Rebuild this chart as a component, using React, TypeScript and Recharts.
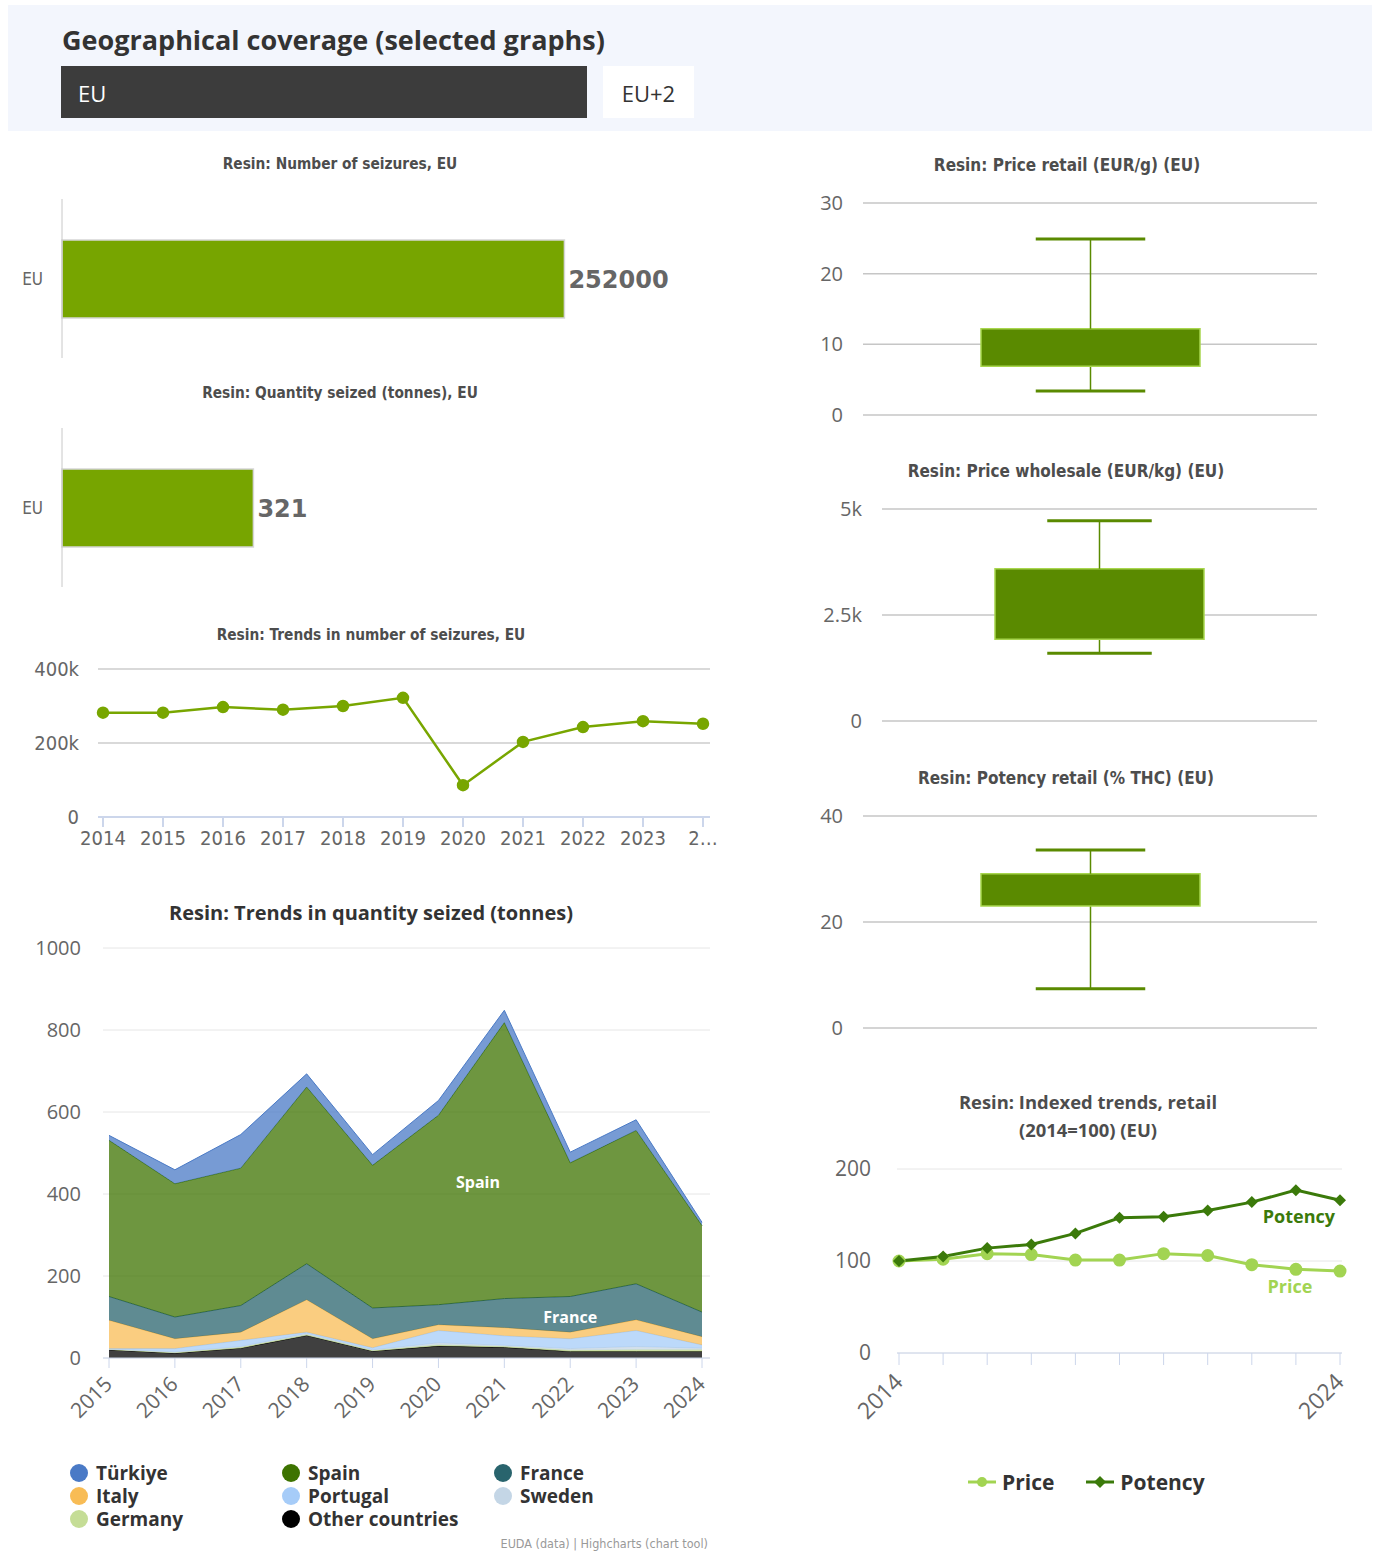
import React from 'react';
import {
  BarChart,
  Bar,
  LineChart,
  Line,
  AreaChart,
  Area,
  XAxis,
  YAxis,
  CartesianGrid,
  LabelList,
  ReferenceDot,
} from 'recharts';

// ---- data ----
const seizureCategories = ['EU'];
const seizureCount = [252000];
const quantitySeized = [321];

const trendYears = ['2014', '2015', '2016', '2017', '2018', '2019', '2020', '2021', '2022', '2023', '2024'];
const trendSeizures = [282000, 282000, 297000, 290000, 300000, 322000, 86000, 203000, 243000, 259000, 252000];

const qtyYears = [2015, 2016, 2017, 2018, 2019, 2020, 2021, 2022, 2023, 2024];
const turkiye = [12, 34, 82, 32, 26, 36, 30, 26, 26, 8];
const spain = [381, 325, 335, 431, 348, 462, 673, 326, 374, 211];
const france = [58, 53, 65, 88, 75, 49, 71, 87, 88, 60];
const italy = [69, 24, 20, 79, 22, 14, 20, 16, 26, 20];
const portugal = [1, 8, 15, 3, 5, 30, 23, 24, 39, 8];
const sweden = [1, 2, 2, 3, 2, 5, 3, 4, 8, 4];
const germany = [1, 1, 2, 2, 1, 3, 2, 3, 4, 4];
const otherCountries = [20, 12, 24, 55, 17, 29, 26, 16, 16, 16];

// low whisker, q1, q3, high whisker
const priceRetailStats = [3.4, 6.9, 12.2, 24.9];
const priceWholesaleStats = [1600, 1930, 3590, 4720];
const potencyRetailStats = [7.4, 23.0, 29.1, 33.6];

const indexYears = ['2014', '2015', '2016', '2017', '2018', '2019', '2020', '2021', '2022', '2023', '2024'];
const priceIndex = [100, 102, 108, 107, 101, 101, 108, 106, 96, 91, 89];
const potencyIndex = [100, 105, 114, 118, 130, 147, 148, 155, 164, 177, 166];

// ---- series config ----
const qtySeries = [
  { name: 'Türkiye', key: 'turkiye', color: '#4a7ac6', values: turkiye },
  { name: 'Spain', key: 'spain', color: '#3d7300', values: spain },
  { name: 'France', key: 'france', color: '#29646d', values: france },
  { name: 'Italy', key: 'italy', color: '#f8bc55', values: italy },
  { name: 'Portugal', key: 'portugal', color: '#a6ccf8', values: portugal },
  { name: 'Sweden', key: 'sweden', color: '#c4d6e6', values: sweden },
  { name: 'Germany', key: 'germany', color: '#c5dd96', values: germany },
  { name: 'Other countries', key: 'other', color: '#000000', values: otherCountries },
];

const seizureRows = seizureCategories.map((name, i) => ({ name, value: seizureCount[i] }));
const quantityRows = seizureCategories.map((name, i) => ({ name, value: quantitySeized[i] }));
const trendRows = trendYears.map((year, i) => ({ year, seizures: trendSeizures[i] }));
const qtyRows = qtyYears.map((year, i) => {
  const row: Record<string, number> = { year };
  qtySeries.forEach((s) => (row[s.key] = s.values[i]));
  return row;
});
const indexRows = indexYears.map((year, i) => ({ year, price: priceIndex[i], potency: potencyIndex[i] }));

const boxRow = (s: number[]) => [
  { name: 'EU', base: s[0], lower: s[1] - s[0], box: s[2] - s[1], upper: s[3] - s[2] },
];

const GREEN = '#77a500';
const BOX_GREEN = '#5a8a00';
const POTENCY = '#3b7a0a';
const PRICE = '#a2d452';
const COND = '"DejaVu Sans Condensed", "DejaVu Sans", sans-serif';
const OPEN = '"Open Sans", "Noto Sans", sans-serif';

function Title({ cx, cy, text, size = 15.3, color = '#4d4d4d', family = COND }: any) {
  return (
    <div
      style={{
        position: 'absolute',
        left: cx - 300,
        width: 600,
        top: cy - size * 0.7,
        lineHeight: `${size * 1.4}px`,
        textAlign: 'center',
        fontSize: size,
        fontWeight: 700,
        color,
        fontFamily: family,
        fontStretch: family === COND ? 'condensed' : 'normal',
        whiteSpace: 'nowrap',
      }}
    >
      {text}
    </div>
  );
}

function Whisker({ x, y, width, height, cap }: any) {
  const cx = x + width / 2;
  const capY = cap === 'top' ? y : y + height;
  return (
    <g>
      <line x1={cx} x2={cx} y1={y} y2={y + height} stroke={BOX_GREEN} strokeWidth={1.5} />
      <line x1={x + width / 4} x2={x + (3 * width) / 4} y1={capY} y2={capY} stroke={BOX_GREEN} strokeWidth={3} />
    </g>
  );
}

function BoxPlot({ stats, ticks, width, height, top, yWidth, boxWidth, fmt }: any) {
  return (
    <BarChart width={width} height={height} data={boxRow(stats)} margin={{ top, right: 23, bottom: height - top - 212, left: 0 }}>
      <CartesianGrid vertical={false} stroke="#c6c6c6" strokeWidth={1.5} />
      <XAxis dataKey="name" hide />
      <YAxis
        width={yWidth}
        domain={[ticks[0], ticks[ticks.length - 1]]}
        ticks={ticks}
        axisLine={false}
        tickLine={false}
        tickMargin={14}
        tickFormatter={fmt}
        tick={{ fontSize: 20, fill: '#666', fontFamily: OPEN }}
      />
      <Bar dataKey="base" stackId="b" fill="none" barSize={boxWidth} isAnimationActive={false} />
      <Bar dataKey="lower" stackId="b" shape={(p: any) => <Whisker {...p} cap="bottom" />} isAnimationActive={false} />
      <Bar dataKey="box" stackId="b" fill={BOX_GREEN} stroke="#a8d64e" strokeWidth={1.5} isAnimationActive={false} />
      <Bar dataKey="upper" stackId="b" shape={(p: any) => <Whisker {...p} cap="top" />} isAnimationActive={false} />
    </BarChart>
  );
}

function RotatedTick({ x, y, payload, show = true, size = 21 }: any) {
  if (!show) return null;
  return (
    <g transform={`translate(${x - 6},${y + 5}) rotate(-45)`}>
      <text textAnchor="end" dy="0.7em" fontSize={size} fill="#666" fontFamily={OPEN}>
        {payload.value}
      </text>
    </g>
  );
}

function Diamond({ cx, cy, fill, size = 6 }: any) {
  if (cx == null || cy == null) return null;
  return (
    <polygon
      points={`${cx},${cy - size} ${cx + size},${cy} ${cx},${cy + size} ${cx - size},${cy}`}
      fill={fill}
    />
  );
}

function HBar({ rows, domain }: any) {
  return (
    <BarChart layout="vertical" width={720} height={220} data={rows} margin={{ top: 49, right: 20, bottom: 12, left: 0 }}>
      <XAxis type="number" hide domain={domain} />
      <YAxis
        type="category"
        dataKey="name"
        width={62}
        axisLine={{ stroke: '#c8c8c8' }}
        tickLine={false}
        tickMargin={13}
        tick={{ fontSize: 17, fill: '#666', fontFamily: COND }}
      />
      <Bar dataKey="value" fill={GREEN} stroke="#d6d6d6" strokeWidth={1.5} barSize={78} isAnimationActive={false}>
        <LabelList
          dataKey="value"
          position="right"
          offset={4}
          fill="#666"
          fontSize={24}
          fontWeight={700}
          fontFamily='"DejaVu Sans", sans-serif'
        />
      </Bar>
    </BarChart>
  );
}

export default function App() {
  const abs = (left: number, top: number): React.CSSProperties => ({ position: 'absolute', left, top });
  return (
    <div style={{ position: 'absolute', left: 0, top: 0, width: 1378, height: 1553, background: '#fff', fontFamily: OPEN }}>
      {/* header */}
      <div style={{ position: 'absolute', left: 8, top: 5, width: 1364, height: 126, background: '#f3f6fd' }} />
      <div style={{ ...abs(62, 22), fontSize: 27, fontWeight: 700, color: '#333', fontFamily: OPEN, lineHeight: '36px' }}>
        Geographical coverage (selected graphs)
      </div>
      <div
        style={{
          ...abs(61, 66),
          width: 526,
          height: 52,
          background: '#3c3c3c',
          color: '#fff',
          fontSize: 22,
          lineHeight: '54px',
          paddingLeft: 17,
          boxSizing: 'border-box',
        }}
      >
        EU
      </div>
      <div
        style={{
          ...abs(603, 66),
          width: 91,
          height: 52,
          background: '#fff',
          color: '#333',
          fontSize: 22,
          lineHeight: '54px',
          textAlign: 'center',
        }}
      >
        EU+2
      </div>

      {/* left: bar charts */}
      <Title cx={340} cy={165} text="Resin: Number of seizures, EU" />
      <div style={abs(0, 150)}>
        <HBar rows={seizureRows} domain={[0, 320000]} />
      </div>
      <Title cx={340} cy={394} text="Resin: Quantity seized (tonnes), EU" />
      <div style={abs(0, 379)}>
        <HBar rows={quantityRows} domain={[0, 1070]} />
      </div>

      {/* left: trend line */}
      <Title cx={371} cy={636} text="Resin: Trends in number of seizures, EU" />
      <div style={abs(0, 620)}>
        <LineChart width={720} height={240} data={trendRows} margin={{ top: 49, right: 10, bottom: 8, left: 0 }}>
          <CartesianGrid vertical={false} stroke="#cccccc" strokeWidth={1.5} />
          <XAxis
            dataKey="year"
            padding={{ left: 5, right: 7 }}
            height={35}
            interval={0}
            axisLine={{ stroke: '#ccd6eb', strokeWidth: 2 }}
            tickLine={{ stroke: '#ccd6eb', strokeWidth: 2 }}
            tickSize={10}
            tickMargin={4}
            tickFormatter={(v: string, i: number) => (i === trendYears.length - 1 ? v.slice(0, 1) + '…' : v)}
            tick={{ fontSize: 20, fill: '#666', fontFamily: COND }}
          />
          <YAxis
            width={98}
            domain={[0, 400000]}
            ticks={[0, 200000, 400000]}
            axisLine={false}
            tickLine={false}
            tickMargin={13}
            tickFormatter={(v: number) => (v === 0 ? '0' : `${v / 1000}k`)}
            tick={{ fontSize: 20, fill: '#666', fontFamily: COND }}
          />
          <Line
            dataKey="seizures"
            stroke="#78a600"
            strokeWidth={2.5}
            dot={{ r: 5, fill: '#78a600', stroke: '#78a600' }}
            isAnimationActive={false}
          />
        </LineChart>
      </div>

      {/* left: stacked area */}
      <Title cx={371} cy={913} text="Resin: Trends in quantity seized (tonnes)" size={20} color="#333" family={OPEN} />
      <div style={abs(0, 890)}>
        <AreaChart width={720} height={560} data={qtyRows} margin={{ top: 58, right: 10, bottom: 30, left: 0 }}>
          <CartesianGrid vertical={false} stroke="#e6e6e6" />
          <XAxis
            dataKey="year"
            type="number"
            domain={[2015, 2024]}
            ticks={qtyYears}
            padding={{ left: 6, right: 8 }}
            height={62}
            axisLine={{ stroke: '#ccd6eb' }}
            tickLine={{ stroke: '#ccd6eb' }}
            tickSize={10}
            tick={<RotatedTick />}
          />
          <YAxis
            width={103}
            domain={[0, 1000]}
            ticks={[0, 200, 400, 600, 800, 1000]}
            axisLine={false}
            tickLine={false}
            tickMargin={16}
            tick={{ fontSize: 20, fill: '#666', fontFamily: OPEN }}
          />
          {[...qtySeries].reverse().map((s) => (
            <Area
              key={s.key}
              type="linear"
              dataKey={s.key}
              stackId="q"
              stroke={s.color}
              strokeWidth={1}
              fill={s.color}
              fillOpacity={0.75}
              isAnimationActive={false}
            />
          ))}
          <ReferenceDot
            x={2020.6}
            y={429}
            r={0}
            stroke="none"
            label={{ value: 'Spain', fill: '#fff', fontSize: 16, fontWeight: 700, fontFamily: OPEN }}
          />
          <ReferenceDot
            x={2022}
            y={100}
            r={0}
            stroke="none"
            label={{ value: 'France', fill: '#fff', fontSize: 16, fontWeight: 700, fontFamily: OPEN }}
          />
        </AreaChart>
      </div>
      <div
        style={{
          ...abs(70, 1461),
          display: 'grid',
          gridTemplateColumns: 'repeat(3, 212px)',
          gridAutoRows: '23px',
          fontSize: 19,
          fontWeight: 700,
          color: '#333',
          fontFamily: OPEN,
        }}
      >
        {qtySeries.map((s) => (
          <div key={s.key} style={{ display: 'flex', alignItems: 'center', whiteSpace: 'nowrap' }}>
            <span
              style={{
                display: 'inline-block',
                width: 18,
                height: 18,
                borderRadius: 9,
                background: s.color,
                marginRight: 8,
              }}
            />
            {s.name}
          </div>
        ))}
      </div>
      <div style={{ ...abs(408, 1536), width: 300, textAlign: 'right', fontSize: 12.5, color: '#999', fontFamily: COND }}>
        EUDA (data) | Highcharts (chart tool)
      </div>

      {/* right: box plots */}
      <Title cx={1067} cy={166} text="Resin: Price retail (EUR/g) (EU)" size={17} />
      <div style={abs(800, 150)}>
        <BoxPlot stats={priceRetailStats} ticks={[0, 10, 20, 30]} width={540} height={280} top={53} yWidth={63} boxWidth={219} />
      </div>
      <Title cx={1066} cy={472} text="Resin: Price wholesale (EUR/kg) (EU)" size={17} />
      <div style={abs(800, 456)}>
        <BoxPlot
          stats={priceWholesaleStats}
          ticks={[0, 2500, 5000]}
          width={540}
          height={285}
          top={53}
          yWidth={82}
          boxWidth={209}
          fmt={(v: number) => (v === 0 ? '0' : `${v / 1000}k`)}
        />
      </div>
      <Title cx={1066} cy={779} text="Resin: Potency retail (% THC) (EU)" size={17} />
      <div style={abs(800, 760)}>
        <BoxPlot stats={potencyRetailStats} ticks={[0, 20, 40]} width={540} height={285} top={56} yWidth={63} boxWidth={219} />
      </div>

      {/* right: indexed trends */}
      <Title cx={1088} cy={1102} text="Resin: Indexed trends, retail" size={18.4} family={OPEN} />
      <Title cx={1088} cy={1130} text="(2014=100) (EU)" size={18.4} family={OPEN} />
      <div style={abs(800, 1080)}>
        <LineChart width={560} height={370} data={indexRows} margin={{ top: 89, right: 18, bottom: 32, left: 0 }}>
          <CartesianGrid vertical={false} stroke="#e6e6e6" />
          <XAxis
            dataKey="year"
            padding={{ left: 2, right: 2 }}
            height={65}
            interval={0}
            axisLine={{ stroke: '#ccd6eb' }}
            tickLine={{ stroke: '#ccd6eb' }}
            tickSize={12}
            tick={(p: any) => (
              <RotatedTick {...p} size={23} show={p.index === 0 || p.index === indexYears.length - 1} />
            )}
          />
          <YAxis
            width={97}
            domain={[0, 200]}
            ticks={[0, 100, 200]}
            axisLine={false}
            tickLine={false}
            tickMargin={20}
            tick={{ fontSize: 21, fill: '#666', fontFamily: OPEN }}
          />
          <Line
            dataKey="price"
            stroke={PRICE}
            strokeWidth={3}
            dot={{ r: 5, fill: PRICE, stroke: PRICE }}
            isAnimationActive={false}
          >
            <LabelList
              dataKey="price"
              content={(p: any) =>
                p.index === indexYears.length - 2 ? (
                  <text x={p.x - 6} y={p.y + 24} textAnchor="middle" fill={PRICE} fontSize={18} fontWeight={700} fontFamily={OPEN}>
                    Price
                  </text>
                ) : null
              }
            />
          </Line>
          <Line
            dataKey="potency"
            stroke={POTENCY}
            strokeWidth={3}
            dot={(p: any) => <Diamond key={p.index} cx={p.cx} cy={p.cy} fill={POTENCY} />}
            isAnimationActive={false}
          >
            <LabelList
              dataKey="potency"
              content={(p: any) =>
                p.index === indexYears.length - 2 ? (
                  <text x={p.x + 3} y={p.y + 33} textAnchor="middle" fill={POTENCY} fontSize={18} fontWeight={700} fontFamily={OPEN}>
                    Potency
                  </text>
                ) : null
              }
            />
          </Line>
        </LineChart>
      </div>
      <div style={{ ...abs(968, 1468), display: 'flex', alignItems: 'center', fontSize: 21, fontWeight: 700, color: '#333', fontFamily: OPEN }}>
        <svg width={28} height={14} style={{ marginRight: 6 }}>
          <line x1={0} x2={28} y1={7} y2={7} stroke={PRICE} strokeWidth={3} />
          <circle cx={14} cy={7} r={5} fill={PRICE} />
        </svg>
        <span style={{ marginRight: 32 }}>Price</span>
        <svg width={28} height={14} style={{ marginRight: 6 }}>
          <line x1={0} x2={28} y1={7} y2={7} stroke={POTENCY} strokeWidth={3} />
          <Diamond cx={14} cy={7} fill={POTENCY} />
        </svg>
        <span>Potency</span>
      </div>
    </div>
  );
}
